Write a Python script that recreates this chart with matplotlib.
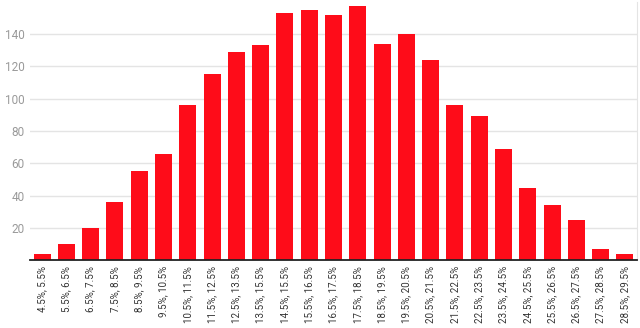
import matplotlib
matplotlib.use("Agg")
import matplotlib.pyplot as plt

categories = ["4.5%, 5.5%", "5.5%, 6.5%", "6.5%, 7.5%", "7.5%, 8.5%", "8.5%, 9.5%",
              "9.5%, 10.5%", "10.5%, 11.5%", "11.5%, 12.5%", "12.5%, 13.5%", "13.5%, 15.5%",
              "14.5%, 15.5%", "15.5%, 16.5%", "16.5%, 17.5%", "17.5%, 18.5%", "18.5%, 19.5%",
              "19.5%, 20.5%", "20.5%, 21.5%", "21.5%, 22.5%", "22.5%, 23.5%", "23.5%, 24.5%",
              "24.5%, 25.5%", "25.5%, 26.5%", "26.5%, 27.5%", "27.5%, 28.5%", "28.5%, 29.5%"]
values = [4, 10, 20, 36, 55, 66, 96, 115, 129, 133, 153, 155, 152, 157, 134,
          140, 124, 96, 89, 69, 45, 34, 25, 7, 4]
yticks = [20, 40, 60, 80, 100, 120, 140]

plt.rcParams['font.family'] = ['Roboto', 'DejaVu Sans']
fig = plt.figure(figsize=(6.4, 3.28), dpi=100)
ax = fig.add_axes([30/640, 1 - 260.3/328, 607/640, (260.3 - 1.6)/328])

x = list(range(len(categories)))
ax.bar(x, values, width=0.7, color='#fe0c19', zorder=3)
ax.set_xlim(-0.5, len(categories) - 0.5)
ax.set_ylim(0, 160)
ax.set_yticks(yticks)
ax.set_yticklabels([str(v) for v in yticks], fontsize=8.5, color='#9a9a9a')
ax.set_xticks(x)
ax.set_xticklabels(categories, rotation=90, fontsize=7, color='#333333', va='top')
ax.tick_params(axis='both', length=0)
ax.tick_params(axis='y', pad=4)
ax.tick_params(axis='x', pad=4)
ax.grid(axis='y', color='#e4e4e4', linewidth=1, zorder=0)
for s in ['top', 'left']:
    ax.spines[s].set_visible(False)
ax.spines['right'].set_color('#e4e4e4')
ax.spines['bottom'].set_color('#222222')
ax.spines['bottom'].set_linewidth(1.3)
ax.spines['bottom'].set_zorder(4)

fig.savefig("out.png", dpi=100)
